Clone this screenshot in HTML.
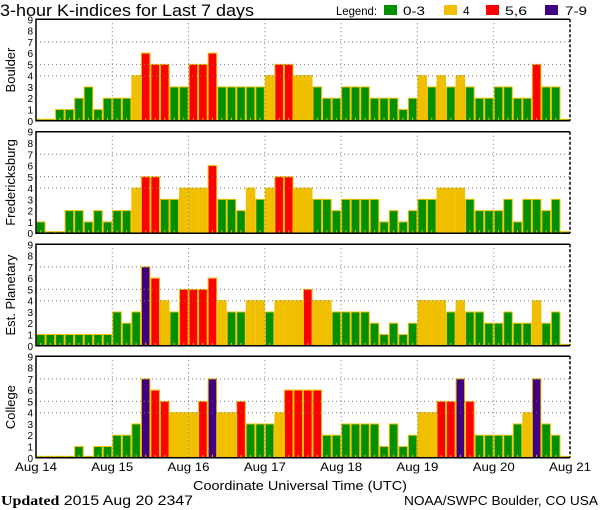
<!DOCTYPE html>
<html><head><meta charset="utf-8"><style>
body{margin:0;background:#fff;}
svg{display:block;font-family:"Liberation Sans",sans-serif;}
</style></head><body>
<svg id="s" width="600" height="510" xmlns="http://www.w3.org/2000/svg">
<text x="0" y="16" font-size="17" textLength="254" lengthAdjust="spacingAndGlyphs">3-hour K-indices for Last 7 days</text>
<text x="336" y="15" font-size="12" textLength="41" lengthAdjust="spacingAndGlyphs">Legend:</text>
<rect x="384" y="5" width="13" height="10" fill="#009000"/><text x="403" y="15" font-size="12" textLength="22" lengthAdjust="spacingAndGlyphs">0-3</text>
<rect x="444" y="5" width="13" height="10" fill="#f0c000"/><text x="463" y="15" font-size="12">4</text>
<rect x="486" y="5" width="13" height="10" fill="#ff0000"/><text x="505" y="15" font-size="12" textLength="22" lengthAdjust="spacingAndGlyphs">5,6</text>
<rect x="545" y="5" width="13" height="10" fill="#400080"/><text x="565" y="15" font-size="12" textLength="22" lengthAdjust="spacingAndGlyphs">7-9</text>
<text x="193" y="490" font-size="13" textLength="214" lengthAdjust="spacingAndGlyphs">Coordinate Universal Time (UTC)</text>
<text x="1" y="505" font-size="14" textLength="192" lengthAdjust="spacingAndGlyphs"><tspan font-family="Liberation Serif" font-weight="bold">Updated</tspan> 2015 Aug 20 2347</text>
<text x="404" y="505" font-size="13" textLength="194" lengthAdjust="spacingAndGlyphs">NOAA/SWPC Boulder, CO USA</text>
</svg>
<script>
var data=[
["Boulder",19.3,[0,0,1,1,2,3,1,2, 2,2,4,6,5,5,3,3, 5,5,6,3,3,3,3,3, 4,5,5,4,4,3,2,2, 3,3,3,2,2,2,1,2, 4,3,4,3,4,3,2,2, 3,3,2,2,5,3,3,0]],
["Fredericksburg",131.7,[1,0,0,2,2,1,2,1, 2,2,4,5,5,3,3,4, 4,4,6,3,3,2,4,3, 4,5,5,4,4,3,3,2, 3,3,3,3,1,2,1,2, 3,3,4,4,4,3,2,2, 2,3,1,3,3,2,3,0]],
["Est. Planetary",244.3,[1,1,1,1,1,1,1,1, 3,2,3,7,6,4,3,5, 5,5,6,4,3,3,4,4, 3,4,4,4,5,4,4,3, 3,3,3,2,1,2,1,2, 4,4,4,3,4,3,3,2, 2,3,2,2,4,2,3,0]],
["College",356.3,[0,0,0,0,1,0,1,1, 2,2,3,7,6,5,4,4, 4,5,7,4,4,5,3,3, 3,4,6,6,6,6,2,2, 3,3,3,3,1,3,1,2, 4,4,5,5,7,5,2,2, 2,2,3,4,7,3,2,0]]];
var s=document.getElementById('s'),NS="http://www.w3.org/2000/svg";
function el(t,a,txt){var e=document.createElementNS(NS,t);for(var k in a)e.setAttribute(k,a[k]);if(txt!=null)e.textContent=txt;s.appendChild(e);return e;}
var L=36,R=570,W=(R-L)/56,H=101.5,U=H/9;
function col(v){return v<=3?"#009000":v==4?"#f0c000":v<=6?"#ff0000":"#400080";}
data.forEach(function(p){
 var top=p[1],bot=top+H;
 for(var i=0;i<56;i++){var v=p[2][i],x=L+i*W,h=Math.max(v*U,1.5);
  el('rect',{x:x+0.5,y:bot-h,width:W-1,height:h,fill:col(v),stroke:"#f0c000","stroke-width":1});
  if(v>0)el('line',{x1:x+W/2,x2:x+W/2,y1:bot-3,y2:bot,stroke:"#f0c000","stroke-width":1});
 }
 [4,5,7].forEach(function(k){var y=bot-k*U;el('line',{x1:L,x2:R,y1:y,y2:y,stroke:"#777","stroke-dasharray":"1,3"});});
 for(var d=1;d<7;d++){var x=L+d*8*W;el('line',{x1:x,x2:x,y1:top,y2:bot,stroke:"#777","stroke-dasharray":"1,3"});}
 el('path',{d:"M"+R+" "+top+"H"+L+"V"+bot+"H"+R,fill:"none",stroke:"#000","stroke-width":1.5});
 el('line',{x1:R,x2:R,y1:top,y2:bot,stroke:"#000","stroke-width":1.5,"stroke-dasharray":"3,2"});
 for(var k=0;k<=9;k++)el('text',{x:33,y:bot-k*U+4,"font-size":10,"text-anchor":"end"},k);
 var cy=top+H/2;
 el('text',{x:0,y:0,"font-size":13,"text-anchor":"middle",transform:"translate(15,"+cy+") rotate(-90)"},p[0]);
});
for(var d=0;d<=7;d++)el('text',{x:L+d*8*W,y:471,"font-size":12,"text-anchor":"middle",textLength:42,lengthAdjust:"spacingAndGlyphs"},"Aug "+(14+d));
</script>
</body></html>
